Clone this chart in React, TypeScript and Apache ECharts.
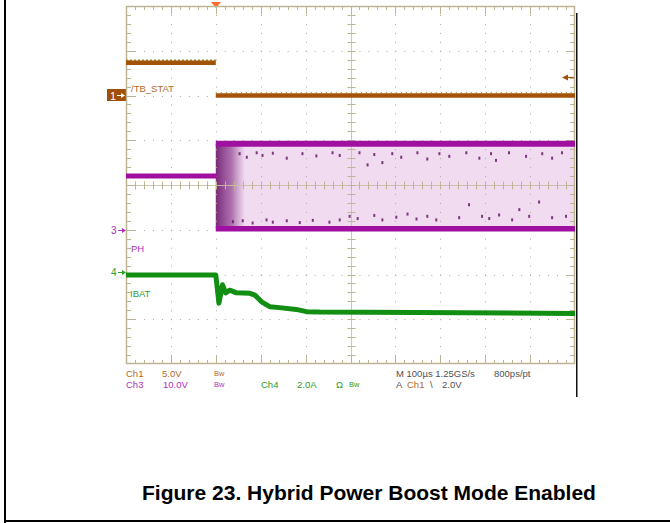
import React, { useEffect, useRef } from "react";
import * as echarts from "echarts";

// Screen divisions
const X_DIVS = 10;
const Y_DIVS = 8;

// Ch1 (/TB_STAT), in divisions
const ch1High = [[0, 6.73], [2.0, 6.73]];
const ch1Low = [[2.0, 6.0], [10, 6.0]];
const ch1HighNoise = [[0, 6.79], [2.0, 6.79]];
const ch1LowNoise = [[2.0, 6.065], [10, 6.065]];

// Ch3 (PH)
const ch3Pre = [[0, 4.2], [2.02, 4.2]];
const ch3High = [[2.0, 4.92], [10, 4.92]];
const ch3Low = [[2.0, 3.02], [10, 3.02]];
const ch3Speckles = [
  [2.53, 4.7], [2.69, 4.62], [2.91, 4.72], [3.04, 4.66], [3.27, 4.71], [3.58, 4.6], [3.93, 4.7],
  [4.24, 4.65], [4.6, 4.72], [4.76, 4.66], [5.2, 4.72], [5.38, 4.45], [5.53, 4.68], [5.71, 4.5],
  [5.93, 4.7], [6.13, 4.62], [6.49, 4.72], [6.71, 4.58], [6.98, 4.7], [7.2, 4.64], [7.58, 4.72],
  [7.87, 4.6], [8.13, 4.7], [8.24, 4.55], [8.53, 4.72], [8.91, 4.64], [9.27, 4.7], [9.49, 4.6],
  [9.71, 4.72],
  [2.38, 3.18], [2.6, 3.2], [2.82, 3.15], [3.13, 3.22], [3.27, 3.17], [3.58, 3.2], [3.87, 3.16],
  [4.16, 3.21], [4.53, 3.17], [4.76, 3.22], [4.98, 3.3], [5.16, 3.25], [5.53, 3.32], [5.71, 3.22],
  [6.02, 3.28], [6.27, 3.35], [6.47, 3.24], [6.71, 3.3], [6.91, 3.22], [7.42, 3.27], [7.64, 3.56],
  [7.93, 3.3], [8.09, 3.25], [8.31, 3.33], [8.6, 3.22], [8.76, 3.45], [8.98, 3.3], [9.2, 3.62],
  [9.49, 3.27], [9.8, 3.3],
];

// Ch4 (IBAT)
const ch4 = [
  [0, 1.99], [2.0, 1.99], [2.07, 1.36], [2.15, 1.77], [2.22, 1.59], [2.31, 1.65], [2.46, 1.59],
  [2.76, 1.58], [2.87, 1.54], [3.02, 1.39], [3.2, 1.28], [3.42, 1.26], [3.79, 1.22], [4.02, 1.17],
  [4.31, 1.16], [10, 1.13],
];

const C_CH1 = "#a4520a";
const C_CH1_TXT = "#b46a2a";
const C_CH3 = "#a010a0";
const C_CH3_TXT = "#b030b8";
const C_CH4 = "#128e12";
const C_CH4_TXT = "#2aa02a";
const C_GRAY = "#505050";
const C_GRID = "#bdb494";

const FONT = '"Liberation Sans", Arial, sans-serif';

function graticule(params: any, api: any) {
  const p0 = api.coord([0, 0]);
  const p1 = api.coord([X_DIVS, Y_DIVS]);
  const x0 = p0[0], yb = p0[1], x1 = p1[0], yt = p1[1];
  const dx = (x1 - x0) / X_DIVS;
  const dy = (yb - yt) / Y_DIVS;
  const children: any[] = [];
  const line = (ax: number, ay: number, bx: number, by: number, extra: any = {}) =>
    children.push({
      type: "line",
      shape: { x1: ax, y1: ay, x2: bx, y2: by },
      style: { stroke: C_GRID, lineWidth: 1, ...extra },
      silent: true,
    });
  // dotted grid
  for (let i = 1; i < X_DIVS; i++) {
    if (i === X_DIVS / 2) continue;
    const x = Math.round(x0 + i * dx) + 0.5;
    line(x, yt, x, yb, { lineDash: [1, dy / 5 - 1], stroke: "#b0a888" });
  }
  for (let j = 1; j < Y_DIVS; j++) {
    if (j === Y_DIVS / 2) continue;
    const y = Math.round(yt + j * dy) + 0.5;
    line(x0, y, x1, y, { lineDash: [1, dx / 5 - 1], stroke: "#b0a888" });
  }
  // center lines
  const cx = Math.round(x0 + (X_DIVS / 2) * dx) + 0.5;
  const cy = Math.round(yt + (Y_DIVS / 2) * dy) + 0.5;
  line(cx, yt, cx, yb, { stroke: "#cbbfa4", opacity: 0.9 });
  line(x0, cy, x1, cy, { stroke: "#cbbfa4", opacity: 0.9 });
  // ticks
  for (let k = 1; k < X_DIVS * 5; k++) {
    const x = Math.round(x0 + (k * dx) / 5) + 0.5;
    const major = k % 5 === 0;
    const len = major ? 8 : 4;
    line(x, yt, x, yt + len);
    line(x, yb, x, yb - len);
    line(x, cy - 4, x, cy + 4);
  }
  for (let k = 1; k < Y_DIVS * 5; k++) {
    const y = Math.round(yt + (k * dy) / 5) + 0.5;
    const major = k % 5 === 0;
    const len = major ? 9 : 5;
    line(x0, y, x0 + len, y);
    line(x1, y, x1 - len, y);
    line(cx - 4, y, cx + 4, y);
  }
  // border
  children.push({
    type: "rect",
    shape: { x: x0 + 0.5, y: yt + 0.5, width: x1 - x0 - 1, height: yb - yt - 1 },
    style: { stroke: C_GRID, lineWidth: 1.5, fill: null },
    silent: true,
  });
  return { type: "group", children };
}

const text = (x: number, y: number, t: string, fill: string, size = 9.5, extra: any = {}) => ({
  type: "text",
  x,
  y,
  silent: true,
  style: { text: t, fill, font: `${size}px ${FONT}`, align: "left", verticalAlign: "middle", ...extra },
});

export default function App() {
  const ref = useRef<HTMLDivElement>(null);
  useEffect(() => {
    if (!ref.current) return;
    const chart = echarts.init(ref.current, undefined, { renderer: "svg" });
    const traceLine = (name: string, data: any, color: string, width: number, z = 5, extra: any = {}) => ({
      name,
      type: "line",
      data,
      symbol: "none",
      z,
      lineStyle: { color, width, cap: "butt", join: "round", ...extra },
      silent: true,
    });
    chart.setOption({
      animation: false,
      backgroundColor: "#ffffff",
      grid: { left: 126, top: 6, width: 449, height: 358 },
      xAxis: { type: "value", min: 0, max: X_DIVS, interval: 1, show: false },
      yAxis: { type: "value", min: 0, max: Y_DIVS, interval: 1, show: false },
      series: [
        {
          name: "ph-fill",
          type: "line",
          data: ch3High,
          symbol: "none",
          z: 1,
          lineStyle: { width: 0 },
          silent: true,
          markArea: {
            silent: true,
            data: [
              [
                { coord: [2.0, 3.02], itemStyle: { color: "#f1dbf1" } },
                { coord: [10, 4.92] },
              ],
              [
                {
                  coord: [2.0, 3.02],
                  itemStyle: {
                    color: {
                      type: "linear",
                      x: 0, y: 0, x2: 1, y2: 0,
                      colorStops: [
                        { offset: 0, color: "rgba(100,10,100,0.85)" },
                        { offset: 0.55, color: "rgba(120,30,120,0.55)" },
                        { offset: 1, color: "rgba(140,60,140,0)" },
                      ],
                    },
                  },
                },
                { coord: [2.65, 4.92] },
              ],
            ],
          },
        },
        {
          name: "graticule",
          type: "custom",
          data: [[0, 0]],
          encode: { x: 0, y: 1 },
          renderItem: graticule,
          z: 3,
          silent: true,
        },
        traceLine("ch1-high-noise", ch1HighNoise, "#9c9a2a", 1.5, 4, { type: [2, 2] }),
        traceLine("ch1-low-noise", ch1LowNoise, "#9c9a2a", 1.2, 4, { type: [1, 4] }),
        traceLine("ch1-high", ch1High, C_CH1, 4.5),
        traceLine("ch1-low", ch1Low, C_CH1, 4.5),
        traceLine("ch3-pre", ch3Pre, C_CH3, 5),
        traceLine("ch3-high", ch3High, C_CH3, 6),
        traceLine("ch3-low", ch3Low, C_CH3, 5.5),
        {
          name: "ch3-speckles",
          type: "scatter",
          data: ch3Speckles,
          symbol: "rect",
          symbolSize: [2, 3],
          itemStyle: { color: "#5c0c5c" },
          z: 6,
          silent: true,
        },
        traceLine("ch4", ch4, C_CH4, 5),
      ],
      graphic: [
        // outer figure frame
        { type: "rect", shape: { x: 4, y: 0, width: 2, height: 523 }, style: { fill: "#000" }, silent: true },
        { type: "rect", shape: { x: 4, y: 520, width: 666, height: 2 }, style: { fill: "#000" }, silent: true },
        // right black edge of scope shot
        { type: "rect", shape: { x: 576, y: 13, width: 1.5, height: 384 }, style: { fill: "#111" }, silent: true },
        // trigger position marker
        { type: "polygon", shape: { points: [[211, 2], [221, 2], [216, 8]] }, style: { fill: "#ff6a2a" }, silent: true },
        // trigger level arrow
        { type: "line", shape: { x1: 566, y1: 77.5, x2: 575, y2: 77.5 }, style: { stroke: C_CH1, lineWidth: 1.2 }, silent: true },
        { type: "polygon", shape: { points: [[562, 77.5], [568, 74.5], [568, 80.5]] }, style: { fill: C_CH1 }, silent: true },
        // ch1 ground marker
        { type: "rect", shape: { x: 107, y: 89, width: 19, height: 12 }, style: { fill: "#a04e08" }, silent: true },
        text(110, 95.5, "1", "#ffffff", 11),
        { type: "line", shape: { x1: 117, y1: 95.5, x2: 124, y2: 95.5 }, style: { stroke: "#fff", lineWidth: 1 }, silent: true },
        { type: "polygon", shape: { points: [[125, 95.5], [121, 93], [121, 98]] }, style: { fill: "#fff" }, silent: true },
        // ch3 ground marker
        text(111, 230.5, "3", C_CH3_TXT, 10),
        { type: "line", shape: { x1: 118, y1: 230.5, x2: 124, y2: 230.5 }, style: { stroke: C_CH3_TXT, lineWidth: 1 }, silent: true },
        { type: "polygon", shape: { points: [[126, 230.5], [122, 228], [122, 233]] }, style: { fill: C_CH3_TXT }, silent: true },
        // ch4 ground marker
        text(111, 272.5, "4", C_CH4_TXT, 10),
        { type: "line", shape: { x1: 118, y1: 272.5, x2: 124, y2: 272.5 }, style: { stroke: C_CH4_TXT, lineWidth: 1 }, silent: true },
        { type: "polygon", shape: { points: [[126, 272.5], [122, 270], [122, 275]] }, style: { fill: C_CH4_TXT }, silent: true },
        // trace labels
        text(131, 88.5, "/TB_STAT", C_CH1_TXT, 9.5),
        text(131, 248, "PH", C_CH3_TXT, 9.5),
        text(130, 293, "IBAT", C_CH4_TXT, 9.5),
        // readout row 1
        text(126, 373, "Ch1", C_CH1_TXT),
        text(162, 373, "5.0V", C_CH1_TXT),
        text(214, 373, "Bw", C_CH1_TXT, 7.5),
        text(396, 373, "M 100µs 1.25GS/s", C_GRAY),
        text(494, 373, "800ps/pt", C_GRAY),
        // readout row 2
        text(126, 384.5, "Ch3", C_CH3_TXT),
        text(163, 384.5, "10.0V", C_CH3_TXT),
        text(214, 384.5, "Bw", C_CH3_TXT, 7.5),
        text(261, 384.5, "Ch4", C_CH4_TXT),
        text(297, 384.5, "2.0A", C_CH4_TXT),
        text(336, 384.5, "Ω", C_CH4_TXT),
        text(349, 384, "Bw", C_CH4_TXT, 7.5),
        text(396, 384.5, "A", C_GRAY),
        text(407, 384.5, "Ch1", C_CH1_TXT),
        text(430, 384.5, "\\", C_GRAY),
        text(442, 384.5, "2.0V", C_GRAY),
        // caption
        {
          type: "text",
          x: 369,
          y: 492,
          silent: true,
          style: {
            text: "Figure 23. Hybrid Power Boost Mode Enabled",
            fill: "#000",
            font: `bold 21px ${FONT}`,
            align: "center",
            verticalAlign: "middle",
          },
        },
      ],
    });
    return () => chart.dispose();
  }, []);
  return (
    <div
      ref={ref}
      style={{ position: "fixed", left: 0, top: 0, width: 670, height: 523, background: "#fff" }}
    />
  );
}
